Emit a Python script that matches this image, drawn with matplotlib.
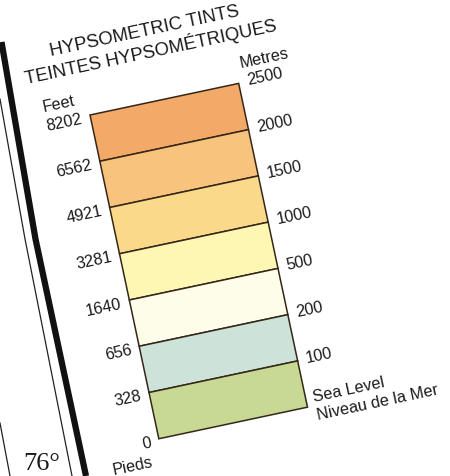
import matplotlib.pyplot as plt
from matplotlib.transforms import Affine2D

# legend content
feet = ['8202', '6562', '4921', '3281', '1640', '656', '328', '0']
metres = ['2500', '2000', '1500', '1000', '500', '200', '100', 'Sea Level']
sea_fr = 'Niveau de la Mer'
tints = ['#f3aa68', '#f8c37c', '#fad98a', '#fef6b3', '#fefde9', '#cde2d8', '#c8d994']
title_en = 'HYPSOMETRIC TINTS'
title_fr = 'TEINTES HYPSOMÉTRIQUES'

plt.rcParams['font.family'] = ['Liberation Sans', 'DejaVu Sans']

fig = plt.figure(figsize=(4.5, 4.77), dpi=100)
ax = fig.add_axes([0, 0, 1, 1])
ax.set_xlim(0, 450)
ax.set_ylim(477, 0)
ax.axis('off')

# the legend block is tilted on the scanned page
ANGLE = 12
X0, Y0 = 90, 116      # top-left corner of the tint column
W, H = 152, 331
bh = H / len(tints)
T = Affine2D().rotate_deg(-ANGLE).translate(X0, Y0) + ax.transData

ink = '#1a1a1a'
edge = '#35261a'
fs = 11.7

for i, c in enumerate(tints):
    ax.bar(W / 2, bh, width=W, bottom=i * bh, color=c, edgecolor=edge,
           linewidth=1.1, transform=T)

for i, s in enumerate(feet):
    ax.text(-8, i * bh + 1, s, transform=T, rotation=ANGLE, rotation_mode='anchor',
            ha='right', va='center', fontsize=fs, color=ink)

for i, s in enumerate(metres[:-1]):
    ax.text(W + 9, i * bh - 1.5, s, transform=T, rotation=ANGLE, rotation_mode='anchor',
            ha='left', va='center', fontsize=fs, color=ink)

ax.text(W + 8, H - 9, metres[-1], transform=T, rotation=ANGLE, rotation_mode='anchor',
        ha='left', va='center', fontsize=fs, color=ink)
ax.text(W + 8, H + 9, sea_fr, transform=T, rotation=ANGLE, rotation_mode='anchor',
        ha='left', va='center', fontsize=fs, color=ink)

ax.text(-28, -18, 'Feet', transform=T, rotation=ANGLE, rotation_mode='anchor',
        ha='center', va='center', fontsize=fs, color=ink)
ax.text(W + 30, -20, 'Metres', transform=T, rotation=ANGLE, rotation_mode='anchor',
        ha='center', va='center', fontsize=fs, color=ink)
ax.text(-31, H + 21, 'Pieds', transform=T, rotation=ANGLE, rotation_mode='anchor',
        ha='center', va='center', fontsize=fs, color=ink)

ax.text(W / 2 - 5, -71, title_en, transform=T, rotation=ANGLE, rotation_mode='anchor',
        ha='center', va='center', fontsize=13.3, color=ink)
ax.text(W / 2 - 3, -50, title_fr, transform=T, rotation=ANGLE, rotation_mode='anchor',
        ha='center', va='center', fontsize=13.3, color=ink)

# bits of the map frame on the left
ax.plot([1.5, 35.5, 86], [43, 240, 477], color='#111111', lw=4.5, solid_capstyle='butt')
ax.plot([0, 25, 72], [100, 240, 477], color='#222222', lw=0.9)
ax.plot([0, 10], [424, 477], color='#222222', lw=0.9)
ax.text(42, 464, '76°', fontsize=19, family=['Liberation Serif', 'DejaVu Serif'],
        ha='center', va='center', color=ink)

fig.savefig('out.png', dpi=100)
